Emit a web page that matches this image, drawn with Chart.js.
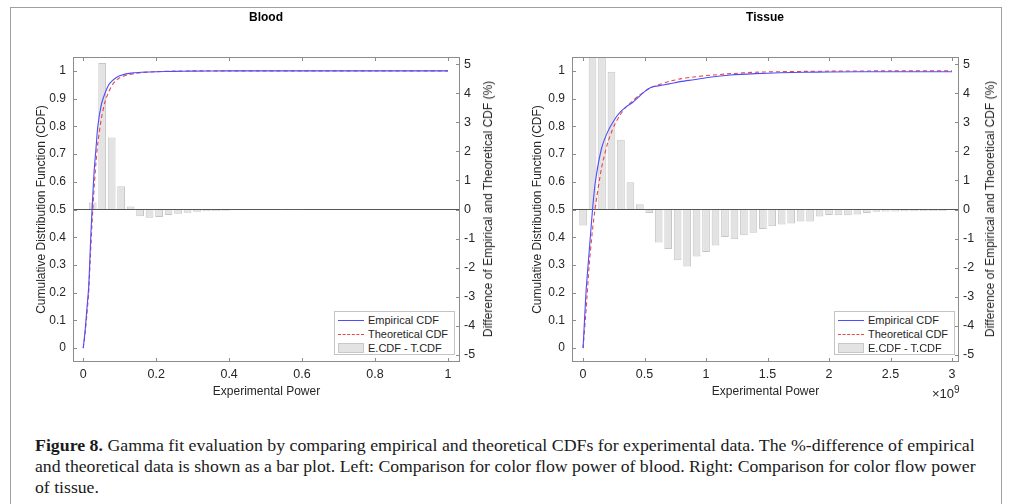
<!DOCTYPE html>
<html>
<head>
<meta charset="utf-8">
<script src="https://cdn.jsdelivr.net/npm/chart.js@4.4.0/dist/chart.umd.min.js"></script>
<style>
    body { margin: 0; background: #fff; width: 1012px; height: 504px; overflow: hidden; position: relative;
           font-family: "Liberation Sans", Arial, Helvetica, sans-serif; color: #262626; }
    #frame { position: absolute; left: 10px; top: 7px; width: 992px; height: 530px; border: 1px solid #a0a0a0; box-sizing: border-box; }
    canvas { position: absolute; top: 0; }
    #bloodCanvas { left: 0; }
    #tissueCanvas { left: 500px; }
    .ytitle2 { position: absolute; top: 209px; font-size: 12px; white-space: nowrap;
               transform: translate(-50%, -50%) rotate(-90deg); }
    .legend { position: absolute; top: 311px; width: 121px; height: 44px; border: 1px solid #c4c4c4;
              background: #fff; box-sizing: border-box; font-size: 11px; }
    .legend .row { position: absolute; left: 0; width: 100%; height: 14px; line-height: 14px; white-space: nowrap; }
    .legend .lbl { position: absolute; left: 33px; top: 0; }
    .legend .sample { position: absolute; left: 3px; width: 26px; }
    .s-emp { top: 7px; border-top: 1px solid #4d4dff; }
    .s-theo { top: 7px; border-top: 1px dashed #ee4444; }
    .s-bar { top: 2px; height: 10px; background: #e3e3e3; border: 1px solid #c8c8c8; box-sizing: border-box; }
    #expo { position: absolute; left: 932px; top: 384px; font-size: 13px; }
    #expo sup { font-size: 10px; }
    .cap { position: absolute; left: 35px; font-family: "Liberation Serif", "Times New Roman", serif; font-size: 16px;
           white-space: nowrap; transform-origin: 0 50%; color: #1a1a1a; line-height: 20px; }
</style>
</head>
<body>
<div id="frame"></div>
<canvas id="bloodCanvas" width="500" height="400"></canvas>
<canvas id="tissueCanvas" width="505" height="400"></canvas>

<div class="ytitle2" style="left:488px">Difference of Empirical and Theoretical CDF (%)</div>
<div class="ytitle2" style="left:990px">Difference of Empirical and Theoretical CDF (%)</div>

<div class="legend" style="left:334px">
    <div class="row" style="top:1px"><div class="sample s-emp"></div><span class="lbl">Empirical CDF</span></div>
    <div class="row" style="top:15px"><div class="sample s-theo"></div><span class="lbl">Theoretical CDF</span></div>
    <div class="row" style="top:29px"><div class="sample s-bar"></div><span class="lbl">E.CDF - T.CDF</span></div>
</div>
<div class="legend" style="left:834px">
    <div class="row" style="top:1px"><div class="sample s-emp"></div><span class="lbl">Empirical CDF</span></div>
    <div class="row" style="top:15px"><div class="sample s-theo"></div><span class="lbl">Theoretical CDF</span></div>
    <div class="row" style="top:29px"><div class="sample s-bar"></div><span class="lbl">E.CDF - T.CDF</span></div>
</div>
<div id="expo">&times;10<sup>9</sup></div>

<div class="cap" style="top:436px"><b>Figure 8.</b> Gamma fit evaluation by comparing empirical and theoretical CDFs for experimental data. The %-difference of empirical</div>
<div class="cap" style="top:457px">and theoretical data is shown as a bar plot. Left: Comparison for color flow power of blood. Right: Comparison for color flow power</div>
<div class="cap" style="top:478px">of tissue.</div>

<script>
// Blood: CDF curves
const bloodPower = [0, 0.005, 0.01, 0.015, 0.02, 0.025, 0.03, 0.035, 0.04, 0.05, 0.06, 0.07, 0.08, 0.09, 0.1, 0.12, 0.14, 0.16, 0.2, 0.25, 0.3, 0.4, 0.5, 0.6, 0.8, 1.0];
const bloodEmpirical = [0, 0.06, 0.14, 0.22, 0.38, 0.52, 0.64, 0.72, 0.8, 0.88, 0.92, 0.95, 0.965, 0.975, 0.982, 0.99, 0.993, 0.995, 0.997, 0.998, 0.999, 1, 1, 1, 1, 1];
const bloodTheoretical = [0, 0.05, 0.12, 0.2, 0.34, 0.47, 0.58, 0.67, 0.74, 0.83, 0.89, 0.925, 0.95, 0.965, 0.975, 0.985, 0.99, 0.994, 0.997, 0.999, 1, 1, 1, 1, 1, 1];

// Blood: % difference bars
const bloodBarPower = [0.026, 0.052, 0.078, 0.104, 0.13, 0.156, 0.182, 0.208, 0.234, 0.26, 0.286, 0.312, 0.338, 0.364, 0.39, 0.416, 0.442, 0.468, 0.494, 0.52, 0.546, 0.572, 0.598];
const bloodDiff = [0.24, 5.04, 2.48, 0.8, 0.1, -0.23, -0.28, -0.26, -0.19, -0.15, -0.11, -0.08, -0.06, -0.05, -0.04, -0.03, -0.03, -0.02, -0.02, -0.02, -0.01, -0.01, -0.01];

// Tissue: CDF curves (power in units of 1e9)
const tissuePower = [0, 0.025, 0.05, 0.075, 0.1, 0.15, 0.2, 0.25, 0.3, 0.35, 0.4, 0.45, 0.5, 0.55, 0.6, 0.7, 0.8, 0.9, 1.0, 1.2, 1.4, 1.6, 1.8, 2.0, 2.5, 3.0];
const tissueEmpirical = [0, 0.21, 0.35, 0.49, 0.6, 0.72, 0.78, 0.82, 0.85, 0.87, 0.885, 0.905, 0.925, 0.94, 0.945, 0.953, 0.962, 0.968, 0.975, 0.985, 0.99, 0.993, 0.995, 0.996, 0.997, 0.997];
const tissueTheoretical = [0, 0.14, 0.3, 0.42, 0.51, 0.65, 0.74, 0.8, 0.84, 0.87, 0.89, 0.91, 0.925, 0.94, 0.948, 0.962, 0.972, 0.978, 0.983, 0.99, 0.995, 0.997, 0.998, 0.999, 1, 1];

// Tissue: % difference bars
const tissueBarPower = [0, 0.077, 0.154, 0.231, 0.308, 0.385, 0.462, 0.538, 0.615, 0.692, 0.769, 0.846, 0.923, 1.0, 1.077, 1.154, 1.231, 1.308, 1.385, 1.462, 1.538, 1.615, 1.692, 1.769, 1.846, 1.923, 2.0, 2.077, 2.154, 2.231, 2.308, 2.385, 2.462, 2.538, 2.615, 2.692, 2.769, 2.846, 2.923];
const tissueDiff = [-0.55, 7.5, 7.0, 4.74, 2.4, 0.94, 0.18, -0.12, -1.14, -1.36, -1.75, -1.96, -1.62, -1.46, -1.24, -0.95, -1.02, -0.89, -0.8, -0.67, -0.58, -0.52, -0.48, -0.41, -0.41, -0.24, -0.19, -0.2, -0.2, -0.17, -0.12, -0.08, -0.07, -0.07, -0.06, -0.06, -0.05, -0.05, -0.05];

// Tick labels
const cdfTicks = [0, 0.1, 0.2, 0.3, 0.4, 0.5, 0.6, 0.7, 0.8, 0.9, 1];
const diffTicks = [-5, -4, -3, -2, -1, 0, 1, 2, 3, 4, 5];
const bloodXTicks = [0, 0.2, 0.4, 0.6, 0.8, 1];
const tissueXTicks = [0, 0.5, 1, 1.5, 2, 2.5, 3];

Chart.defaults.font.family = '"Liberation Sans", Arial, Helvetica, sans-serif';
Chart.defaults.color = '#262626';

const AXIS_COLOR = '#8c8c8c';

/**
 * Draws the box around the plot area and the inward tick marks
 */
const frameTicks = {
    id: 'frameTicks',
    afterDatasetsDraw(chart) {
        const { ctx, chartArea: a, scales } = chart;
        const len = 4;
        ctx.save();
        ctx.strokeStyle = AXIS_COLOR;
        ctx.lineWidth = 1;
        ctx.strokeRect(a.left + 0.5, a.top + 0.5, a.right - a.left - 1, a.bottom - a.top - 1);
        ctx.beginPath();
        scales.x.ticks.forEach(t => {
            const px = Math.round(scales.x.getPixelForValue(t.value)) + 0.5;
            ctx.moveTo(px, a.bottom); ctx.lineTo(px, a.bottom - len);
            ctx.moveTo(px, a.top); ctx.lineTo(px, a.top + len);
        });
        scales.y.ticks.forEach(t => {
            const py = Math.round(scales.y.getPixelForValue(t.value)) + 0.5;
            ctx.moveTo(a.left, py); ctx.lineTo(a.left + len, py);
        });
        scales.y2.ticks.forEach(t => {
            const py = Math.round(scales.y2.getPixelForValue(t.value)) + 0.5;
            ctx.moveTo(a.right, py); ctx.lineTo(a.right - len, py);
        });
        ctx.stroke();
        ctx.restore();
    }
};

function toPoints(xs, ys) {
    return xs.map((x, i) => ({ x: x, y: ys[i] }));
}

function fixedTicks(values) {
    return scale => { scale.ticks = values.map(v => ({ value: v })); };
}

const plainLabel = v => String(v);

/**
 * Builds one CDF + difference chart
 */
function createCdfChart(canvasId, cfg) {
    const canvas = document.getElementById(canvasId);
    if (!canvas) {
        console.error('Canvas element not found:', canvasId);
        return null;
    }
    return new Chart(canvas.getContext('2d'), {
        type: 'bar',
        data: {
            datasets: [
                {
                    type: 'line',
                    label: 'Empirical CDF',
                    data: toPoints(cfg.power, cfg.empirical),
                    borderColor: '#4d4dff',
                    borderWidth: 1.1,
                    pointRadius: 0,
                    tension: 0.2,
                    yAxisID: 'y',
                    order: 1
                },
                {
                    type: 'line',
                    label: 'Theoretical CDF',
                    data: toPoints(cfg.power, cfg.theoretical),
                    borderColor: '#ee4444',
                    borderDash: [4, 3],
                    borderWidth: 1.1,
                    pointRadius: 0,
                    tension: 0.2,
                    yAxisID: 'y',
                    order: 1
                },
                {
                    label: 'E.CDF - T.CDF',
                    data: toPoints(cfg.barPower, cfg.diff),
                    backgroundColor: '#e3e3e3',
                    borderColor: '#c6c6c6',
                    borderWidth: 1,
                    barPercentage: 0.82,
                    categoryPercentage: 1,
                    yAxisID: 'y2',
                    order: 2
                }
            ]
        },
        options: {
            responsive: false,
            animation: false,
            events: [],
            layout: { padding: cfg.padding },
            plugins: {
                legend: { display: false },
                tooltip: { enabled: false },
                title: {
                    display: true,
                    text: cfg.title,
                    color: '#000',
                    font: { size: 12, weight: 'bold' },
                    padding: { top: 10, bottom: 32.6 }
                }
            },
            scales: {
                x: {
                    type: 'linear',
                    offset: false,
                    min: cfg.xMin,
                    max: cfg.xMax,
                    afterBuildTicks: fixedTicks(cfg.xTicks),
                    afterFit: s => { s.height = 38; },
                    grid: { display: false, drawTicks: false },
                    border: { display: false },
                    ticks: { font: { size: 12.5 }, padding: 5, maxRotation: 0, autoSkip: false, callback: plainLabel },
                    title: { display: true, text: 'Experimental Power', font: { size: 12 }, padding: { top: 0, bottom: 1 } }
                },
                y: {
                    position: 'left',
                    min: -0.05,
                    max: 1.05,
                    afterBuildTicks: fixedTicks(cdfTicks),
                    afterFit: s => { s.width = cfg.yWidth; },
                    grid: { display: false, drawTicks: false },
                    border: { display: false },
                    ticks: { font: { size: 12 }, padding: 7, callback: plainLabel },
                    title: { display: true, text: 'Cumulative Distribution Function (CDF)', font: { size: 12 }, padding: { top: 1.5, bottom: 0 } }
                },
                y2: {
                    position: 'right',
                    min: -5.25,
                    max: 5.25,
                    afterBuildTicks: fixedTicks(diffTicks),
                    afterFit: s => { s.width = cfg.y2Width; },
                    grid: {
                        drawTicks: false,
                        lineWidth: 1,
                        color: c => (c.tick && c.tick.value === 0) ? '#555555' : 'rgba(0,0,0,0)'
                    },
                    border: { display: false },
                    ticks: { font: { size: 12.5 }, padding: 4, callback: plainLabel }
                }
            }
        },
        plugins: [frameTicks]
    });
}

createCdfChart('bloodCanvas', {
    title: 'Blood',
    power: bloodPower, empirical: bloodEmpirical, theoretical: bloodTheoretical,
    barPower: bloodBarPower, diff: bloodDiff,
    xMin: -0.028, xMax: 1.033, xTicks: bloodXTicks,
    padding: { left: 33, right: 1, top: 0, bottom: 0 },
    yWidth: 40, y2Width: 39
});

createCdfChart('tissueCanvas', {
    title: 'Tissue',
    power: tissuePower, empirical: tissueEmpirical, theoretical: tissueTheoretical,
    barPower: tissueBarPower, diff: tissueDiff,
    xMin: -0.09, xMax: 3.057, xTicks: tissueXTicks,
    padding: { left: 29, right: 4, top: 0, bottom: 0 },
    yWidth: 43, y2Width: 42
});

// Fit caption lines to the justified text width
const capLines = document.querySelectorAll('.cap');
let capScale = 1;
capLines.forEach((el, i) => {
    if (i < 2) capScale = 940 / el.scrollWidth;
    el.style.transform = `scaleX(${capScale})`;
});
</script>
</body>
</html>
